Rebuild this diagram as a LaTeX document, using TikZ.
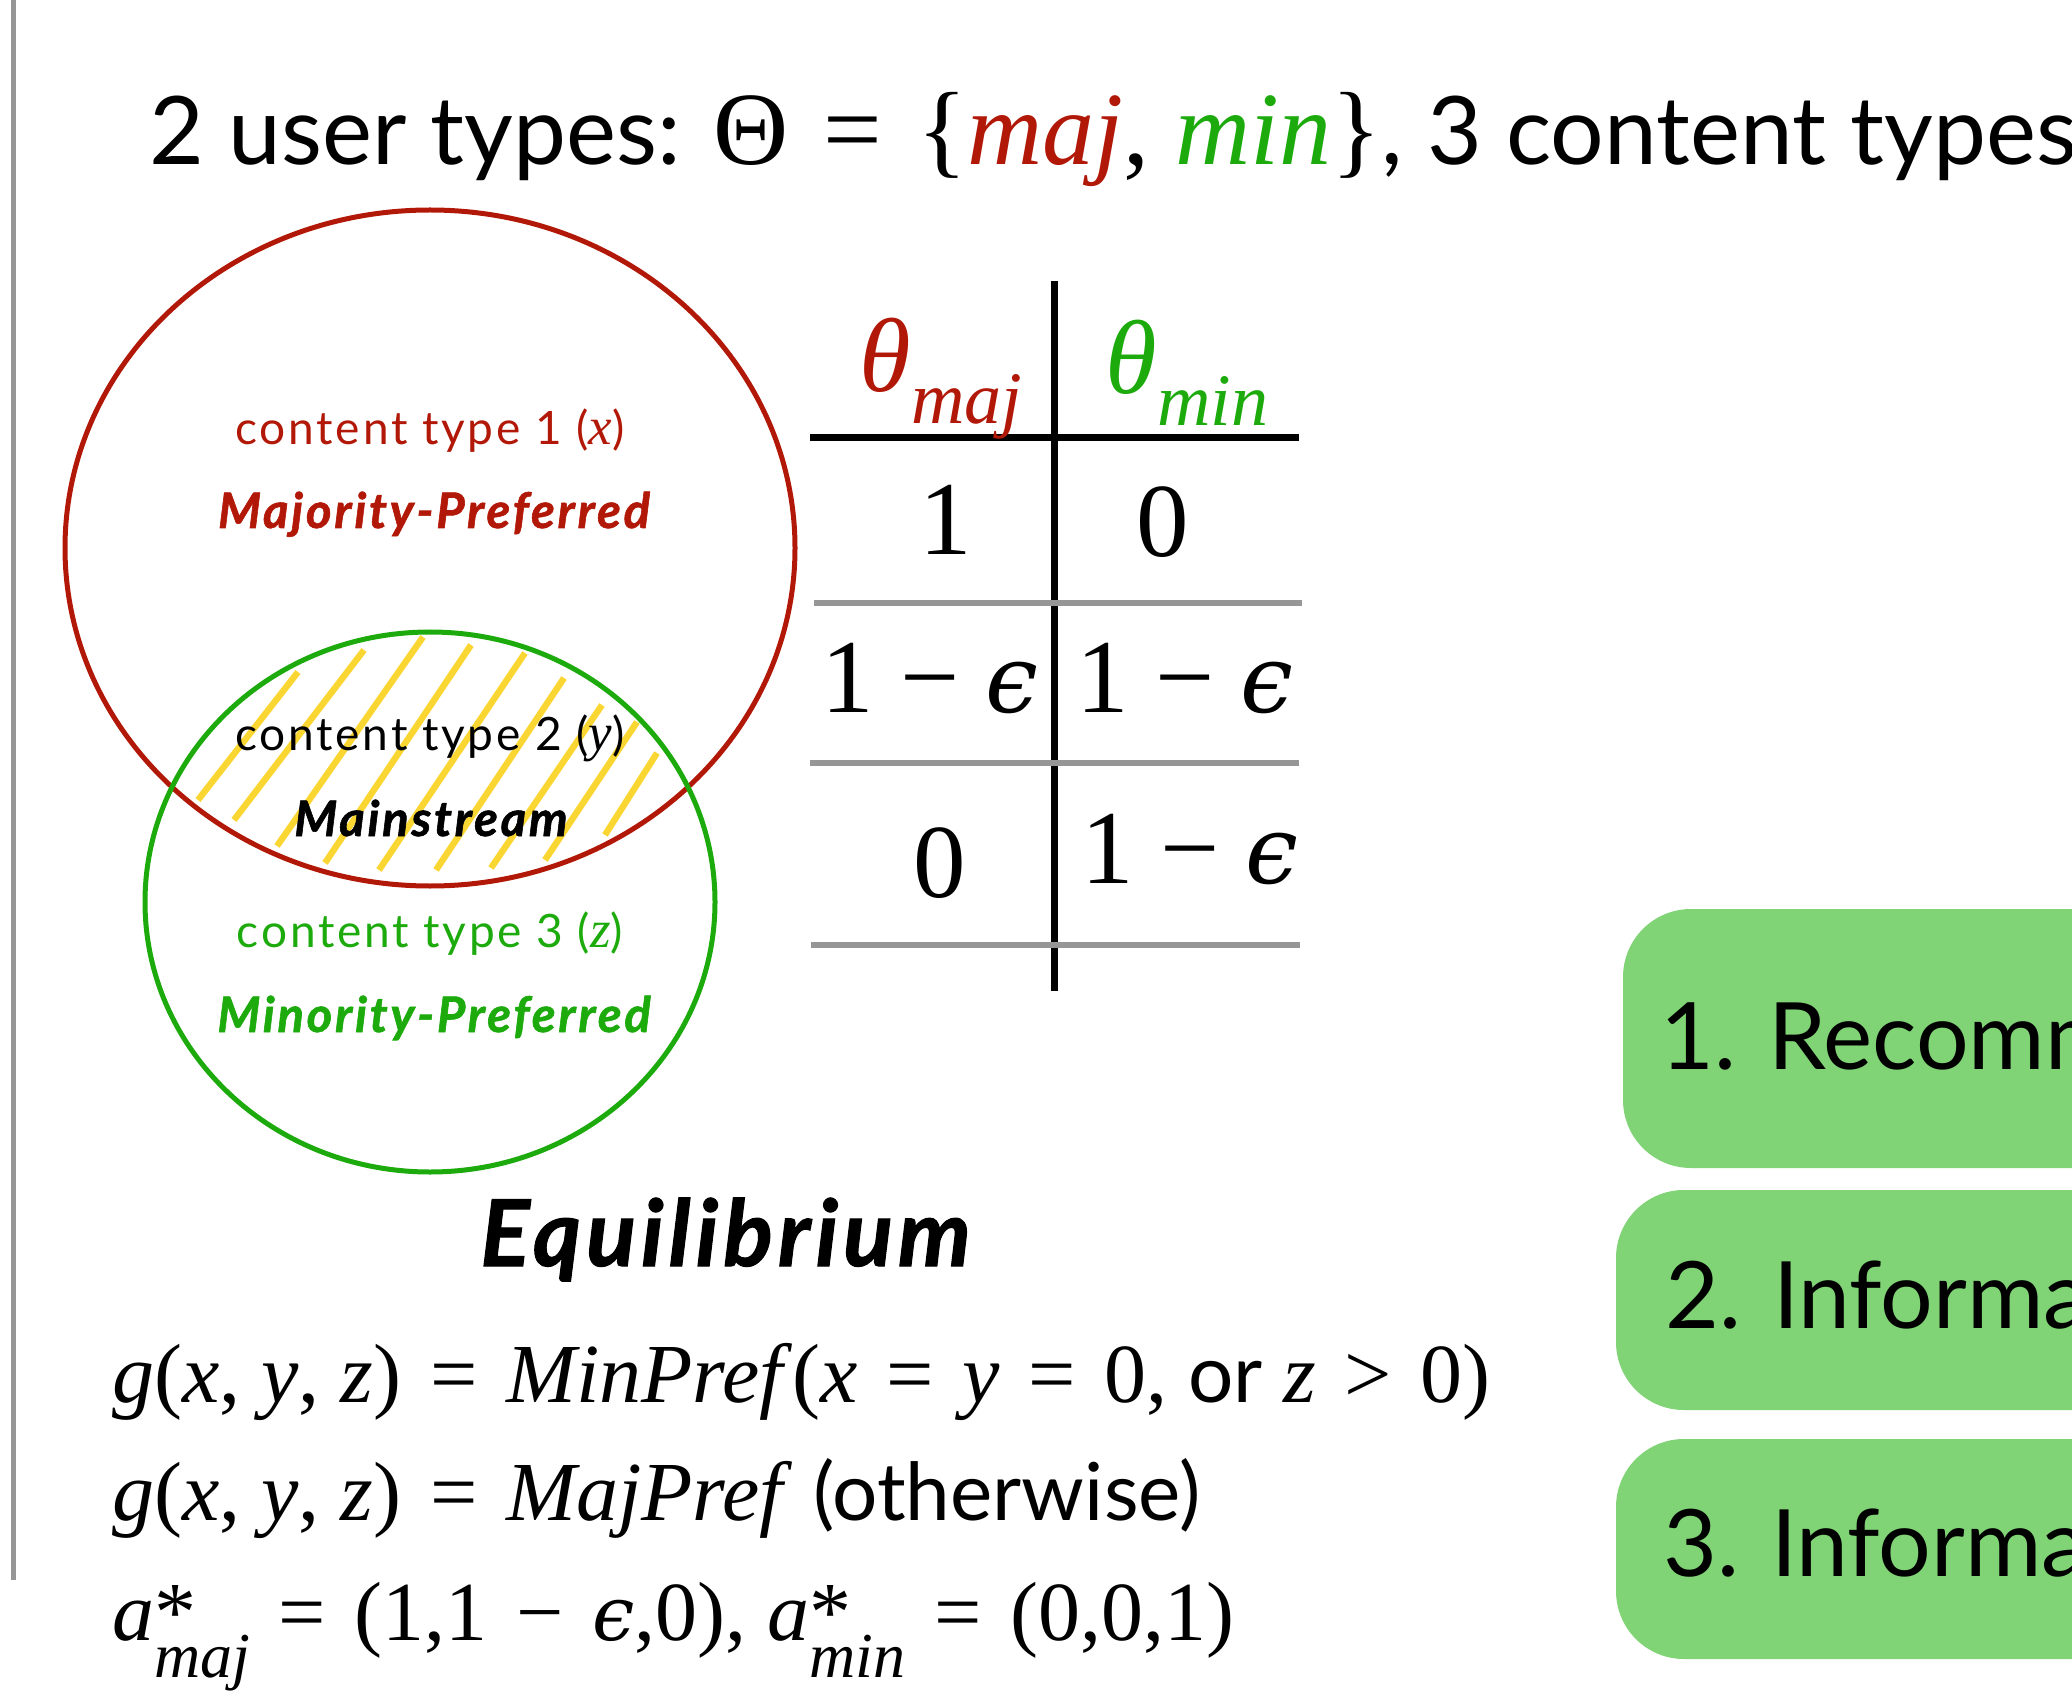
\documentclass[tikz,border=0pt]{standalone}
\usepackage{fontspec}
\newfontfamily\av{Lato}
\newfontfamily\avs[LetterSpace=6]{Lato}
\newfontfamily\avh[LetterSpace=5.5, BoldItalicFeatures={FakeBold=1.2}]{Lato}
\newfontfamily\tms{Liberation Serif}
\newfontfamily\dvs{DejaVu Serif}
\definecolor{cr}{RGB}{178,24,8}
\definecolor{cg}{RGB}{28,170,12}
\definecolor{hatchc}{RGB}{250,214,50}
\definecolor{rulec}{RGB}{150,150,150}
\definecolor{boxg}{RGB}{128,212,117}
\newcommand\iv[1]{\textit{#1}}
\newcommand\rel[1]{\hspace{0.34em}#1\hspace{0.34em}}
\newcommand\eps{{\dvs\itshape\fontsize{0.9em}{1em}\selectfont ϵ}}
\newcommand\astsub[2]{\iv{#1}\rlap{*}\raisebox{-0.45em}{\fontsize{32}{34}\selectfont\iv{#2}}}
\tikzset{
  lbl/.style={inner sep=0pt, anchor=base},
  lblw/.style={inner sep=0pt, anchor=base west},
  ctype/.style={lbl, font=\avs\fontsize{23}{26}\selectfont},
  cname/.style={lbl, font=\avh\bfseries\itshape\fontsize{24.5}{28}\selectfont},
  tabtxt/.style={lbl, font=\tms\fontsize{52.5}{56}\selectfont},
  eqtxt/.style={lblw, font=\tms\fontsize{42}{46}\selectfont},
  boxtxt/.style={lblw, font=\av\fontsize{46.5}{50}\selectfont},
  boxfill/.style={fill=boxg, rounded corners=34pt},
  tabrule/.style={line width=3.5pt, black},
  grayrule/.style={line width=3.2pt, rulec},
  hatchline/.style={hatchc, line width=3.2pt},
}
\begin{document}
\begin{tikzpicture}[x=0.5pt,y=-0.5pt]
\path[use as bounding box] (0,0) rectangle (2072,1700);
\clip (0,0) rectangle (2072,1700);
% left rule
\draw[line width=2.5pt, rulec] (13,0) -- (13,1580);
% title
\node[lblw, font=\av\fontsize{47.3}{52}\selectfont] (title) at (149,165)
  {2 user types: {\tms\fontsize{52}{56}\selectfont Θ\rel{=}\{\iv{\color{cr}maj}, \iv{\color{cg}min}\}}, 3 content types};
% hatch in intersection
\foreach \ax/\ay/\bx/\by in {198/800/298/672, 234/820/364/650, 277/846/423/637,
    325/863/471/645, 379/870/525/653, 436/870/564/678, 491/868/602/705,
    545/860/637/722, 605/835/657/753}
  \draw[hatchline] (\ax,\ay) -- (\bx,\by);
% ellipses
\draw[cr, line width=2.5pt] (430,548) ellipse [x radius=182.5pt, y radius=169pt];
\draw[cg, line width=2.5pt] (430,902) ellipse [x radius=142.5pt, y radius=135pt];
% labels
\node[ctype, text=cr] (ct1) at (430,445) {content type 1 ({\tms\fontsize{1.15em}{1.2em}\selectfont\iv{x}})};
\node[cname, text=cr] (mp) at (434,528) {Majority-Preferred};
\node[ctype, text=black] (ct2) at (430,750) {content type 2 ({\tms\fontsize{1.15em}{1.2em}\selectfont\iv{y}})};
\node[cname, text=black] (ms) at (431,836) {Mainstream};
\node[ctype, text=cg] (ct3) at (430,947) {content type 3 ({\tms\fontsize{1.15em}{1.2em}\selectfont\iv{z}})};
\node[cname, text=cg] (mn) at (434,1032) {Minority-Preferred};
% table
\draw[tabrule] (1054,281) -- (1054,991);
\draw[tabrule] (810,438) -- (1299,438);
\draw[grayrule] (814,603) -- (1302,603);
\draw[grayrule] (810,763) -- (1299,763);
\draw[grayrule] (811,945) -- (1300,945);
\node[tabtxt, text=cr] (hmaj) at (941,392) {\iv{θ}\raisebox{-0.3em}{\fontsize{37}{40}\selectfont\iv{maj}}};
\node[tabtxt, text=cg] (hmin) at (1187,394) {\iv{θ}\raisebox{-0.3em}{\fontsize{37}{40}\selectfont\iv{min}}};
\node[tabtxt] (a11) at (946,555) {1};
\node[tabtxt] (a12) at (1163,557) {0};
\node[tabtxt] (a21) at (930,712) {1 − \eps};
\node[tabtxt] (a22) at (1185,712) {1 − \eps};
\node[tabtxt] (a31) at (940,897) {0};
\node[tabtxt] (a32) at (1190,883) {1 − \eps};
% equilibrium
\node[lblw, font=\avh\bfseries\itshape\fontsize{46}{50}\selectfont] (eq) at (480,1266) {Equilibrium};
\node[eqtxt] (e1) at (112,1402) {\iv{g}(\iv{x}, \iv{y}, \iv{z})\rel{=}\iv{MinPref}(\iv{x}\rel{=}\iv{y}\rel{=}0, {\av\fontsize{40}{44}\selectfont or} \iv{z}\rel{>}0)};
\node[eqtxt] (e2) at (112,1520) {\iv{g}(\iv{x}, \iv{y}, \iv{z})\rel{=}\iv{MajPref} {\av\fontsize{40}{44}\selectfont (otherwise)}};
\node[eqtxt] (e3) at (112,1640) {\astsub{a}{maj}\rel{=}(1,1\rel{−}\eps,0), \astsub{a}{min}\rel{=}(0,0,1)};
% boxes
\fill[boxfill] (1623,909) rectangle (2250,1168);
\fill[boxfill] (1616,1190) rectangle (2250,1410);
\fill[boxfill] (1616,1439) rectangle (2250,1659);
\node[boxtxt] (b1) at (1660,1069) {1. Recommendation};
\node[boxtxt] (b2) at (1665,1328) {2. Information};
\node[boxtxt] (b3) at (1663,1576) {3. Information};
\end{tikzpicture}
\end{document}
